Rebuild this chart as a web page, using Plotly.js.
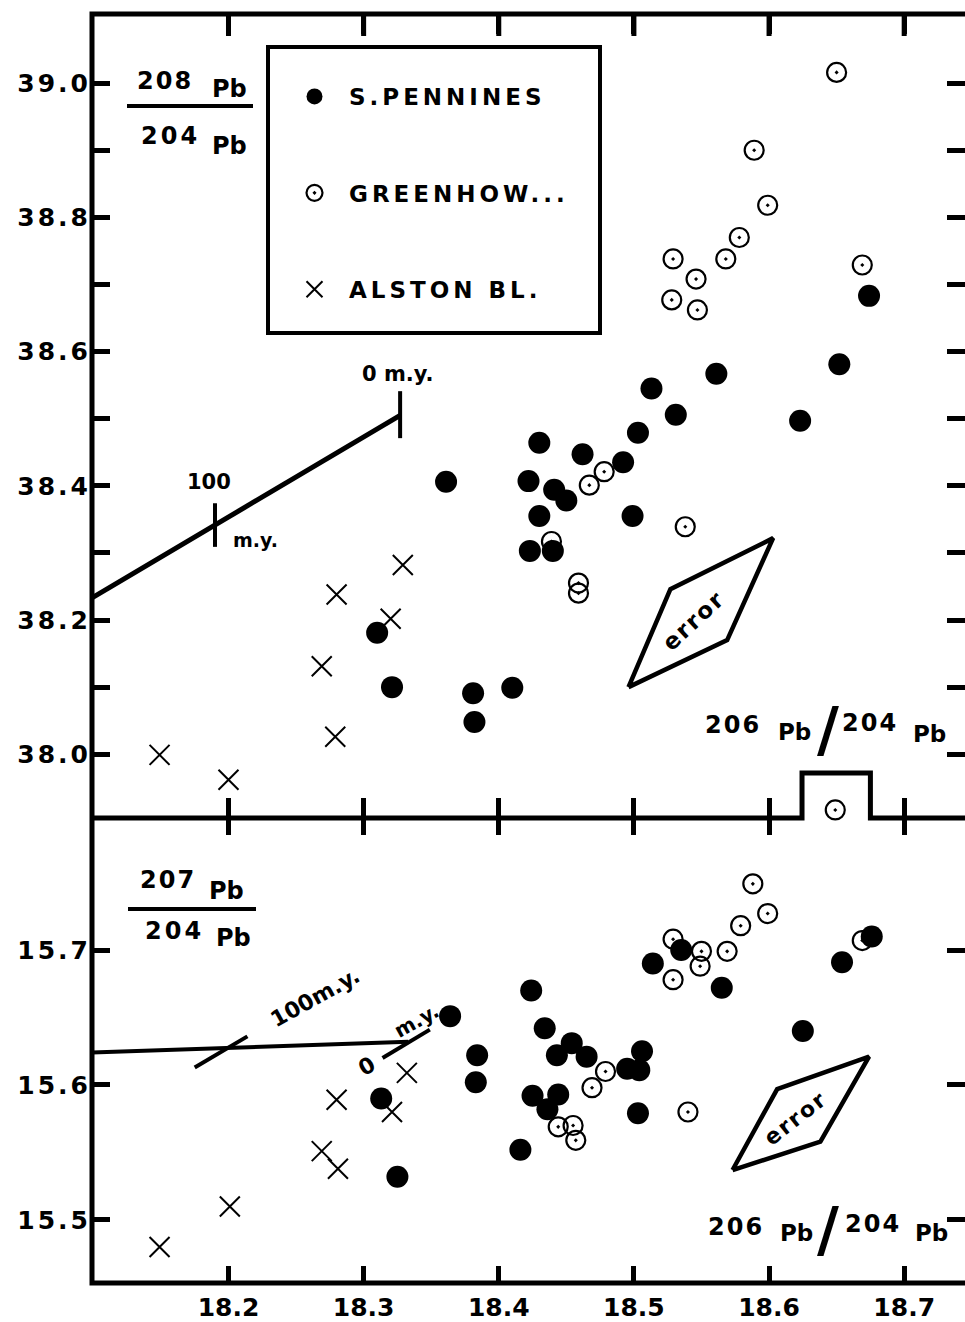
<!DOCTYPE html>
<html><head><meta charset="utf-8">
<script src="https://cdn.plot.ly/plotly-3.0.1.min.js"></script>
<style>html,body{margin:0;padding:0;background:#fff;overflow:hidden}</style>
</head><body><div id="chart" style="width:965px;height:1322px"></div>
<script>
// ---------- data ----------
// upper panel: 208Pb/204Pb vs 206Pb/204Pb
const pennTopX = [18.361, 18.430, 18.422, 18.441, 18.450, 18.430, 18.462, 18.503, 18.492, 18.531, 18.499, 18.423, 18.440, 18.513, 18.561, 18.623, 18.652, 18.674, 18.310, 18.321, 18.381, 18.382, 18.410];
const pennTopY = [38.406, 38.464, 38.407, 38.394, 38.378, 38.355, 38.447, 38.479, 38.435, 38.506, 38.355, 38.303, 38.303, 38.545, 38.567, 38.497, 38.581, 38.683, 38.181, 38.100, 38.091, 38.048, 38.099];
const greenTopX = [18.650, 18.589, 18.599, 18.578, 18.568, 18.529, 18.546, 18.528, 18.547, 18.669, 18.478, 18.467, 18.538, 18.439, 18.459, 18.459, 18.649];
const greenTopY = [39.016, 38.900, 38.818, 38.770, 38.738, 38.738, 38.708, 38.677, 38.662, 38.729, 38.421, 38.401, 38.339, 38.317, 38.255, 38.240, 37.917];
const alstonTopX = [18.329, 18.280, 18.320, 18.269, 18.279, 18.149, 18.200];
const alstonTopY = [38.282, 38.238, 38.202, 38.131, 38.026, 37.999, 37.962];
// lower panel: 207Pb/204Pb vs 206Pb/204Pb
const pennBotX = [18.364, 18.424, 18.434, 18.384, 18.383, 18.443, 18.454, 18.465, 18.425, 18.444, 18.436, 18.416, 18.495, 18.506, 18.504, 18.503, 18.514, 18.535, 18.565, 18.625, 18.654, 18.676, 18.313, 18.325];
const pennBotY = [15.651, 15.670, 15.642, 15.622, 15.602, 15.622, 15.631, 15.621, 15.592, 15.593, 15.582, 15.552, 15.612, 15.625, 15.611, 15.579, 15.690, 15.700, 15.672, 15.640, 15.691, 15.710, 15.590, 15.532];
const greenBotX = [18.588, 18.599, 18.579, 18.569, 18.529, 18.550, 18.549, 18.529, 18.669, 18.540, 18.479, 18.469, 18.444, 18.455, 18.457];
const greenBotY = [15.749, 15.727, 15.718, 15.699, 15.708, 15.699, 15.688, 15.678, 15.707, 15.580, 15.610, 15.598, 15.569, 15.570, 15.559];
const alstonBotX = [18.332, 18.280, 18.321, 18.269, 18.281, 18.201, 18.149];
const alstonBotY = [15.609, 15.589, 15.580, 15.551, 15.538, 15.510, 15.480];
// model growth curves with 100 m.y. and 0 m.y. marks
const growthTopX = [18.099, 18.327];
const growthTopY = [38.233, 38.505];
const growthTopTickX = [18.190, 18.190, null, 18.327, 18.327];
const growthTopTickY = [38.374, 38.309, null, 38.541, 38.471];
const growthBotX = [18.099, 18.333];
const growthBotY = [15.624, 15.632];
const growthBotTickX = [18.175, 18.214, null, 18.314, 18.349];
const growthBotTickY = [15.613, 15.636, null, 15.620, 15.641];
// error parallelograms
const errTopX = [18.496, 18.527, 18.603, 18.569, 18.496];
const errTopY = [38.100, 38.246, 38.322, 38.170, 38.100];
const errBotX = [18.573, 18.606, 18.674, 18.638, 18.573];
const errBotY = [15.537, 15.597, 15.621, 15.558, 15.537];
// out-of-frame notch around the off-scale Greenhow point
const notchX = [18.6244, 18.675];
const notchTopY = 37.972;
// series names and tick labels
const seriesNames = ['S.PENNINES', 'GREENHOW...', 'ALSTON BL.'];
const xTicks = [18.2, 18.3, 18.4, 18.5, 18.6, 18.7];
const xLabels = ['18.2', '18.3', '18.4', '18.5', '18.6', '18.7'];
const topYTicks = [38.0, 38.2, 38.4, 38.6, 38.8, 39.0];
const topYLabels = ['38.0', '38.2', '38.4', '38.6', '38.8', '39.0'];
const topYMinor = [38.1, 38.3, 38.5, 38.7, 38.9];
const botYTicks = [15.5, 15.6, 15.7];
const botYLabels = ['15.5', '15.6', '15.7'];

// ---------- layout geometry ----------
const W = 965, H = 1322, ML = 92, MR = 0, MT = 14, MB = 39;
const PW = W - ML - MR, PH = H - MT - MB;
const xRange = [18.099, 18.745];
const topRange = [37.905, 39.103];
const botRange = [15.4533, 15.7978];
const split = 465 / PH;               // lower panel share of the plot height
const PX = p => (p - ML) / PW;        // pixel -> paper
const PY = p => (H - MB - p) / PH;
const XP = v => (v - xRange[0]) / (xRange[1] - xRange[0]);
const YTP = v => split + (1 - split) * (v - topRange[0]) / (topRange[1] - topRange[0]);

const FONT = 'DejaVu Sans';
const sp = (t, s) => `<span style="letter-spacing:${s}px">${t}</span>`;
const K = '#000';
const F = (size) => ({family: FONT, size, color: K, weight: 'bold'});

const mk = {
  penn: {symbol: 'circle', size: 22, color: K, line: {width: 0}},
  green: {symbol: 'circle-open-dot', size: 19, color: K, line: {width: 2.2, color: K}},
  alston: {symbol: 'x-thin-open', size: 20, color: K, line: {width: 2, color: K}}
};

const traces = [
  {x: greenTopX, y: greenTopY, xaxis: 'x2', yaxis: 'y', mode: 'markers', marker: mk.green, name: sp(seriesNames[1], 4), legendgroup: 'g', legendrank: 2, cliponaxis: false},
  {x: greenBotX, y: greenBotY, xaxis: 'x', yaxis: 'y2', mode: 'markers', marker: mk.green, name: seriesNames[1], legendgroup: 'g', showlegend: false},
  {x: alstonTopX, y: alstonTopY, xaxis: 'x2', yaxis: 'y', mode: 'markers', marker: mk.alston, name: sp(seriesNames[2], 4), legendgroup: 'a', legendrank: 3},
  {x: alstonBotX, y: alstonBotY, xaxis: 'x', yaxis: 'y2', mode: 'markers', marker: mk.alston, name: seriesNames[2], legendgroup: 'a', showlegend: false},
  {x: pennTopX, y: pennTopY, xaxis: 'x2', yaxis: 'y', mode: 'markers', marker: mk.penn, name: sp(seriesNames[0], 4), legendgroup: 'p', legendrank: 1},
  {x: pennBotX, y: pennBotY, xaxis: 'x', yaxis: 'y2', mode: 'markers', marker: mk.penn, name: seriesNames[0], legendgroup: 'p', showlegend: false},
  // growth curves
  {x: growthTopX, y: growthTopY, xaxis: 'x2', yaxis: 'y', mode: 'lines', line: {color: K, width: 5}, showlegend: false, hoverinfo: 'skip'},
  {x: growthTopTickX, y: growthTopTickY, xaxis: 'x2', yaxis: 'y', mode: 'lines', line: {color: K, width: 4}, showlegend: false, hoverinfo: 'skip'},
  {x: growthBotX, y: growthBotY, xaxis: 'x', yaxis: 'y2', mode: 'lines', line: {color: K, width: 4}, showlegend: false, hoverinfo: 'skip'},
  {x: growthBotTickX, y: growthBotTickY, xaxis: 'x', yaxis: 'y2', mode: 'lines', line: {color: K, width: 4}, showlegend: false, hoverinfo: 'skip'},
  // error boxes
  {x: errTopX, y: errTopY, xaxis: 'x2', yaxis: 'y', mode: 'lines', line: {color: K, width: 4.5}, showlegend: false, hoverinfo: 'skip'},
  {x: errBotX, y: errBotY, xaxis: 'x', yaxis: 'y2', mode: 'lines', line: {color: K, width: 4.5}, showlegend: false, hoverinfo: 'skip'}
];

const tickCommon = {ticks: 'inside', tickcolor: K, tickwidth: 5, showgrid: false, zeroline: false, showline: false, mirror: 'ticks'};

const lineW = 5;
const nx0 = XP(notchX[0]), nx1 = XP(notchX[1]), ny = YTP(notchTopY);
// tick marks along the top edge of the frame, at the x tick values
const topTickLen = 22 / PH;
const topTickPath = xTicks.map(v => `M${XP(v)},1 L${XP(v)},${1 - topTickLen}`).join(' ');
const shapes = [
  {type: 'path', xref: 'paper', yref: 'paper', path: 'M1,1 L0,1 L0,0 L1,0', line: {color: K, width: lineW}},
  {type: 'path', xref: 'paper', yref: 'paper', path: `M0,${split} L${nx0},${split} L${nx0},${ny} L${nx1},${ny} L${nx1},${split} L1,${split}`, line: {color: K, width: lineW}},
  {type: 'path', xref: 'paper', yref: 'paper', path: topTickPath, line: {color: K, width: 5}, layer: 'above'},
  // legend frame
  {type: 'rect', xref: 'paper', yref: 'paper', x0: PX(268), x1: PX(600), y0: PY(333), y1: PY(47), line: {color: K, width: 4}},
  // fraction bars of the ratio labels
  {type: 'line', xref: 'paper', yref: 'paper', x0: PX(127), x1: PX(253), y0: PY(106), y1: PY(106), line: {color: K, width: 4}},
  {type: 'line', xref: 'paper', yref: 'paper', x0: PX(128), x1: PX(256), y0: PY(909), y1: PY(909), line: {color: K, width: 4}}
];

const ann = (text, x, y, size, angle) => ({text, x: PX(x), y: PY(y), xref: 'paper', yref: 'paper', showarrow: false, xanchor: 'center', yanchor: 'middle', textangle: angle || 0, font: F(size)});
const annotations = [
  ann(sp('208', 2), 165, 81, 24), ann('Pb', 229, 89, 24), ann(sp('204', 3), 170, 136, 24), ann('Pb', 229, 146, 24),
  ann(sp('207', 2), 168, 880, 24), ann('Pb', 226, 891, 24), ann(sp('204', 3), 174, 931, 24), ann('Pb', 233, 938, 24),
  ann(sp('206', 2), 733, 725, 24), ann('Pb', 794, 732, 23), ann('/', 828, 729, 60), ann(sp('204', 2), 870, 723, 24), ann('Pb', 929, 734, 23),
  ann(sp('206', 2), 736, 1227, 24), ann('Pb', 796, 1233, 23), ann('/', 828, 1229, 60), ann(sp('204', 2), 873, 1224, 24), ann('Pb', 931, 1233, 23),
  ann('0 m.y.', 398, 374, 21), ann('100', 209, 482, 21), ann('m.y.', 255, 540, 19),
  ann('100m.y.', 315, 997, 22, -29), ann('0', 366, 1066, 22, -29), ann('m.y.', 416, 1021, 20, -29),
  ann(sp('error', 2), 693, 621, 23, -43), ann(sp('error', 2), 795, 1118, 22, -38)
];

const layout = {
  width: W, height: H, margin: {l: ML, r: MR, t: MT, b: MB},
  paper_bgcolor: '#fff', plot_bgcolor: '#fff',
  font: {family: FONT, color: K},
  showlegend: true,
  legend: {x: PX(280), y: PY(75), xanchor: 'left', yanchor: 'top', bgcolor: 'rgba(0,0,0,0)', borderwidth: 0,
           font: F(23), tracegroupgap: 63.5, itemwidth: 59},
  xaxis: Object.assign({}, tickCommon, {anchor: 'y2', domain: [0, 1], range: xRange, tickmode: 'array', tickvals: xTicks, ticktext: xLabels,
          ticklen: 17, ticklabelstandoff: 7, tickfont: F(25)}),
  xaxis2: Object.assign({}, tickCommon, {anchor: 'y', matches: 'x', domain: [0, 1], range: xRange, tickmode: 'array', tickvals: xTicks,
          showticklabels: false, ticklen: 20}),
  yaxis: Object.assign({}, tickCommon, {anchor: 'x2', domain: [split, 1], range: topRange, tickmode: 'array', tickvals: topYTicks,
          ticktext: topYLabels.map(t => sp(t, 3)), ticklen: 18, tickfont: F(25),
          minor: {tickmode: 'array', tickvals: topYMinor, ticks: 'inside', ticklen: 18, tickwidth: 5, tickcolor: K, showgrid: false}}),
  yaxis2: Object.assign({}, tickCommon, {anchor: 'x', domain: [0, split], range: botRange, tickmode: 'array', tickvals: botYTicks,
          ticktext: botYLabels.map(t => sp(t, 3)), ticklen: 18, tickfont: F(25)}),
  shapes, annotations
};

Plotly.newPlot('chart', traces, layout, {staticPlot: true, displayModeBar: false});
</script></body></html>
